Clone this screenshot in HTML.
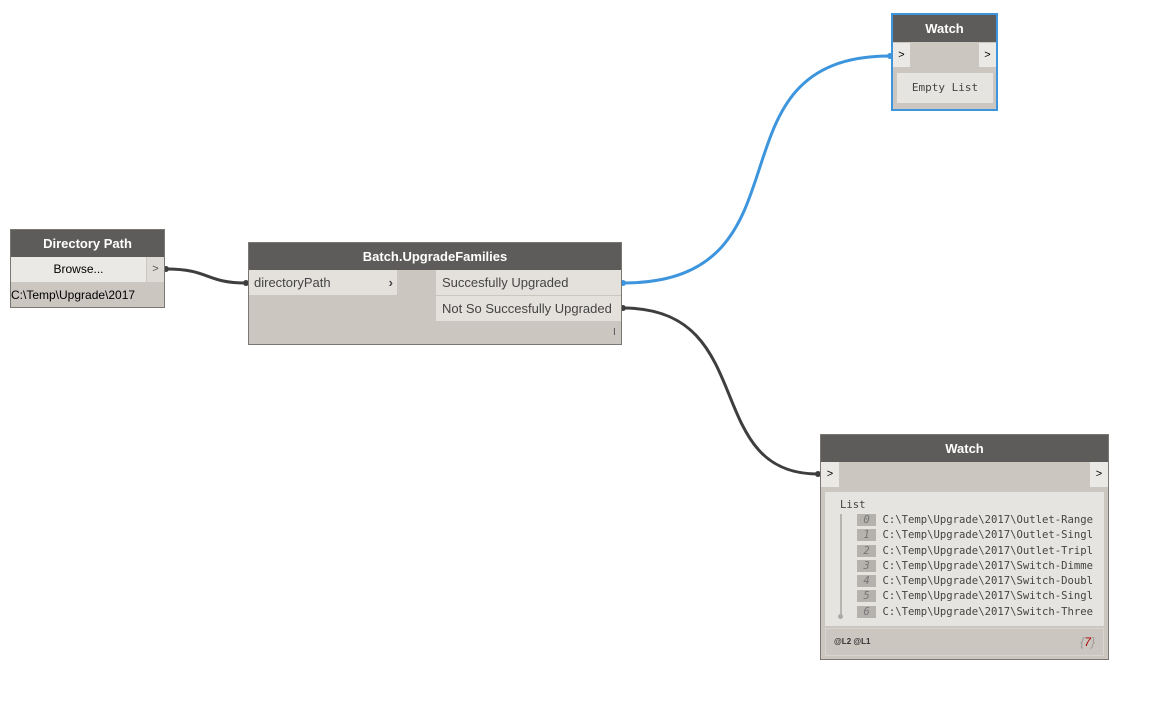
<!DOCTYPE html>
<html><head><style>
body{margin:0;width:1170px;height:702px;background:#fff;position:relative;overflow:hidden;font-family:"Liberation Sans",sans-serif}
.a{position:absolute;box-sizing:border-box}
.hd{background:#5e5c5a;color:#fff;font-weight:bold;font-size:13px;text-align:center}
.node{background:#cbc6c0;border:1px solid #7a7672}
.mono{font-family:"DejaVu Sans Mono","Liberation Mono",monospace}
</style></head><body>
<svg class="a" style="left:0;top:0" width="1170" height="702">
<path d="M166 269 C210 269,205 283,246 283" stroke="#3e3e3e" stroke-width="3" fill="none"/>
<path d="M623 283 C820 283,700 56,890 56" stroke="#3d95dd" stroke-width="3" fill="none"/>
<path d="M623 308 C760 308,700 474,818 474" stroke="#3e3e3e" stroke-width="3" fill="none"/>
<circle cx="166" cy="269" r="3" fill="#3e3e3e"/><circle cx="246" cy="283" r="3" fill="#3e3e3e"/>
<circle cx="623" cy="283" r="3" fill="#3d95dd"/><circle cx="890" cy="56" r="3" fill="#3d95dd"/>
<circle cx="623" cy="308" r="3" fill="#3e3e3e"/><circle cx="818" cy="474" r="3" fill="#3e3e3e"/>
</svg>

<!-- Directory Path -->
<div class="a node" style="left:10px;top:229px;width:155px;height:79px">
<div class="a hd" style="left:0;top:0;width:153px;height:27px;line-height:27px">Directory Path</div>
<div class="a" style="left:0;top:27px;width:135px;height:25px;background:#ebe9e6;font-size:12px;text-align:center;line-height:25px">Browse...</div>
<div class="a" style="left:136px;top:27px;width:17px;height:25px;background:#dedad6;font-size:11px;text-align:center;line-height:25px;color:#555">&gt;</div>
<div class="a" style="left:0;top:53px;font-size:12px;line-height:25px">C:\Temp\Upgrade\2017</div>
</div>

<!-- Batch -->
<div class="a node" style="left:248px;top:242px;width:374px;height:103px">
<div class="a hd" style="left:0;top:0;width:372px;height:27px;line-height:27px">Batch.UpgradeFamilies</div>
<div class="a" style="left:0;top:27px;width:148px;height:25px;background:#e4e1dd;font-size:13px;line-height:25px;padding-left:5px;color:#444">directoryPath<span style="position:absolute;right:4px;font-weight:bold">›</span></div>
<div class="a" style="left:187px;top:27px;width:185px;height:25px;background:#e4e1dd;font-size:13px;line-height:25px;padding-left:6px;color:#444">Succesfully Upgraded</div>
<div class="a" style="left:187px;top:53px;width:185px;height:25px;background:#e4e1dd;font-size:13px;line-height:25px;padding-left:6px;color:#444">Not So Succesfully Upgraded</div>
<div class="a" style="left:364px;top:84px;font-size:10px;color:#555">I</div>
</div>

<!-- Watch top -->
<div class="a" style="left:891px;top:13px;width:107px;height:98px;border:2px solid #3d95dd;background:#cbc6c0">
<div class="a hd" style="left:0;top:0;width:103px;height:27px;line-height:27px">Watch</div>
<div class="a" style="left:0;top:28px;width:17px;height:24px;background:#ebe9e6;font-size:11px;line-height:24px;text-align:center">&gt;</div>
<div class="a" style="left:86px;top:28px;width:17px;height:24px;background:#ebe9e6;font-size:11px;line-height:24px;text-align:center">&gt;</div>
<div class="a mono" style="left:4px;top:58px;width:96px;height:30px;background:#e6e4e0;font-size:11px;line-height:30px;text-align:center;color:#444">Empty List</div>
</div>

<!-- Watch bottom -->
<div class="a node" style="left:820px;top:434px;width:289px;height:226px">
<div class="a hd" style="left:0;top:0;width:287px;height:27px;line-height:27px">Watch</div>
<div class="a" style="left:0;top:27px;width:18px;height:25px;background:#ebe9e6;font-size:11px;line-height:25px;text-align:center">&gt;</div>
<div class="a" style="left:269px;top:27px;width:18px;height:25px;background:#ebe9e6;font-size:11px;line-height:25px;text-align:center">&gt;</div>
<div class="a mono" style="left:4px;top:57px;width:279px;height:134px;background:#e6e4e0;font-size:10.6px;color:#444">
<div class="a" style="left:15px;top:7px">List</div>
<div class="a" style="left:15px;top:22px;width:2px;height:102px;background:#b8b4b0"></div>
<div class="a" style="left:13px;top:122px;width:5px;height:5px;border-radius:50%;background:#aaa"></div>
<div class="a" style="left:32px;top:21px;line-height:15.3px;white-space:pre"><span style="background:#b5b2ae;color:#777;font-style:italic"> 0 </span> C:\Temp\Upgrade\2017\Outlet-Range
<span style="background:#b5b2ae;color:#777;font-style:italic"> 1 </span> C:\Temp\Upgrade\2017\Outlet-Singl
<span style="background:#b5b2ae;color:#777;font-style:italic"> 2 </span> C:\Temp\Upgrade\2017\Outlet-Tripl
<span style="background:#b5b2ae;color:#777;font-style:italic"> 3 </span> C:\Temp\Upgrade\2017\Switch-Dimme
<span style="background:#b5b2ae;color:#777;font-style:italic"> 4 </span> C:\Temp\Upgrade\2017\Switch-Doubl
<span style="background:#b5b2ae;color:#777;font-style:italic"> 5 </span> C:\Temp\Upgrade\2017\Switch-Singl
<span style="background:#b5b2ae;color:#777;font-style:italic"> 6 </span> C:\Temp\Upgrade\2017\Switch-Three</div>
</div>
<div class="a" style="left:4px;top:193px;width:279px;height:28px;border:1px solid #d8d4d0;font-size:8px;line-height:26px;padding-left:8px;font-weight:bold;color:#333">@L2 @L1<span style="position:absolute;right:8px;font-size:12px;font-style:italic;font-weight:normal;color:#999">{<span style="color:#a00">7</span>}</span></div>
</div>
</body></html>
